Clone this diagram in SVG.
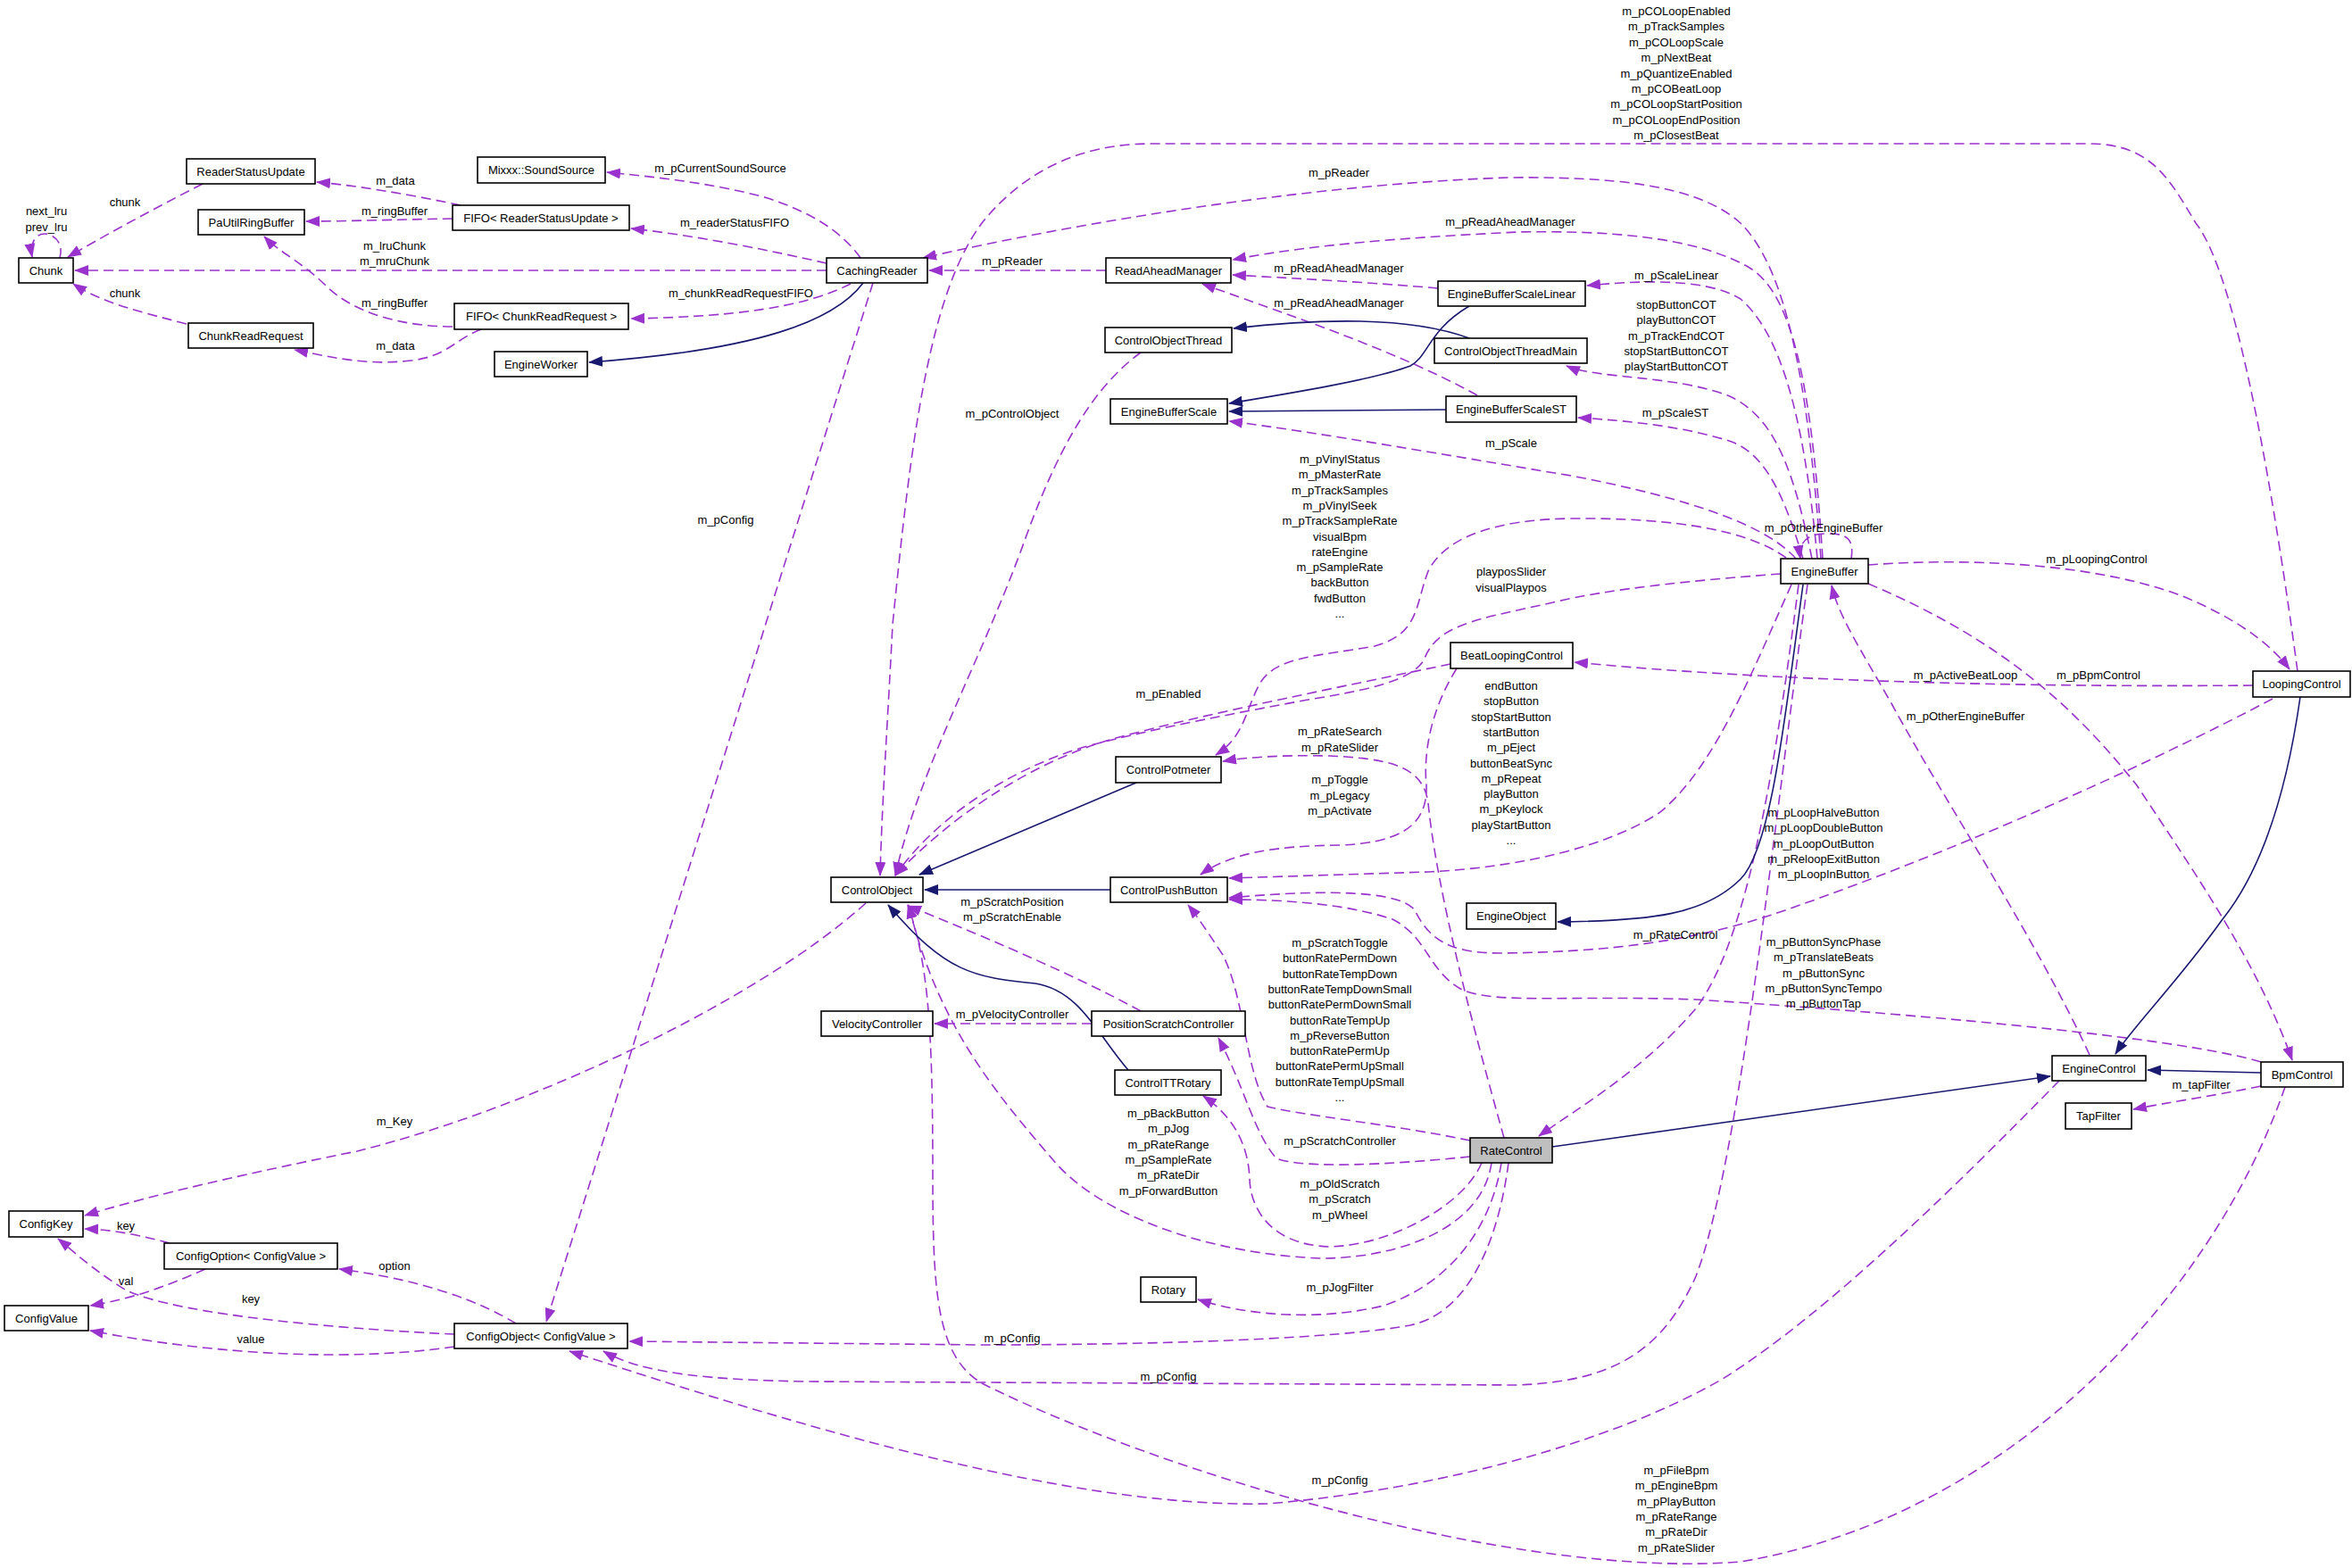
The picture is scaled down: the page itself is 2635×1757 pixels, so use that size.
<svg xmlns="http://www.w3.org/2000/svg" width="2635" height="1757" viewBox="0 0 2635 1757">
<style>
.n rect{fill:#fff;stroke:#000;stroke-width:1.6}
.n text,.l{font-family:"Liberation Sans",Arial,Helvetica,sans-serif;font-size:13px;fill:#000}
.n text{text-anchor:middle}
.l{text-anchor:middle}
.u{fill:none;stroke:#9a32cd;stroke-width:1.6;stroke-dasharray:11,6;marker-end:url(#ap)}
.i{fill:none;stroke:#191970;stroke-width:1.6;marker-end:url(#ab)}
</style>
<defs>
<marker id="ap" markerUnits="userSpaceOnUse" markerWidth="16" markerHeight="12" refX="15" refY="6" orient="auto"><path d="M0,0 L16,6 L0,12 z" fill="#9a32cd"/></marker>
<marker id="ab" markerUnits="userSpaceOnUse" markerWidth="16" markerHeight="12" refX="15" refY="6" orient="auto"><path d="M0,0 L16,6 L0,12 z" fill="#191970"/></marker>
</defs>
<rect width="2635" height="1757" fill="#fff"/>
<g id="connectors">
<path class="u" d="M67,289 C72,272 60,262 50,262 C40,262 33,272 36,288"/>
<path class="u" d="M227,206 C170,235 110,268 76,288"/>
<path class="u" d="M516,230 C460,218 400,208 355,204"/>
<path class="u" d="M507,245 C440,246 390,248 343,248"/>
<path class="u" d="M926,303 L84,303"/>
<path class="u" d="M209,363 C160,350 115,340 82,318"/>
<path class="u" d="M507,366 C450,366 395,350 365,320 C340,295 312,282 296,265"/>
<path class="u" d="M539,369 C510,380 500,400 460,404 C410,410 370,400 330,392"/>
<path class="u" d="M964,289 C940,255 900,235 860,222 C800,205 730,198 680,193"/>
<path class="u" d="M926,295 C860,280 780,264 707,256"/>
<path class="u" d="M953,318 C900,345 820,355 707,357"/>
<path class="u" d="M978,317 L612,1481"/>
<path class="i" d="M967,317 C935,360 850,392 660,406"/>
<path class="u" d="M1239,303 L1041,303"/>
<path class="u" d="M2040,626 C2025,420 2000,300 1950,250 C1900,205 1800,198 1690,199 C1500,205 1250,240 1034,289"/>
<path class="u" d="M2042,626 C2030,440 2010,330 1960,300 C1900,265 1800,258 1700,260 C1600,265 1480,272 1381,291"/>
<path class="u" d="M1611,323 C1530,316 1450,312 1381,308"/>
<path class="u" d="M1655,443 C1560,390 1420,345 1347,318"/>
<path class="u" d="M2036,626 C2020,450 1990,370 1950,335 C1910,310 1830,315 1778,320"/>
<path class="u" d="M2030,626 C2010,530 1990,470 1940,445 C1880,420 1790,425 1755,410"/>
<path class="u" d="M2020,626 C2000,560 1980,510 1940,495 C1880,475 1800,470 1768,468"/>
<path class="u" d="M2012,626 C1980,590 1900,560 1760,533 C1620,510 1480,485 1377,472"/>
<path class="u" d="M2074,626 C2078,600 2065,598 2045,598 C2025,598 2014,608 2017,626"/>
<path class="u" d="M2001,625 C1960,595 1880,580 1760,581 C1680,582 1620,600 1600,640 C1585,680 1590,710 1540,724 C1480,735 1430,735 1412,765 C1395,795 1395,825 1362,846"/>
<path class="u" d="M1995,643 C1900,650 1800,660 1740,675 C1650,695 1610,700 1595,740 C1580,765 1520,775 1460,785 C1380,800 1300,815 1230,833 C1160,850 1060,900 1003,981"/>
<path class="u" d="M1625,744 C1500,770 1350,800 1250,827 C1150,855 1060,920 1003,981"/>
<path class="u" d="M1278,395 C1230,430 1190,490 1150,600 C1100,740 1030,860 1003,981"/>
<path class="u" d="M2574,752 C2540,500 2500,300 2460,250 C2430,200 2410,161 2340,161 L1290,161 C1200,161 1140,200 1100,250 C1040,330 1020,500 1000,700 C995,800 988,900 986,981"/>
<path class="u" d="M2093,633 C2200,625 2350,630 2450,670 C2520,700 2550,730 2565,750"/>
<path class="u" d="M2524,768 C2300,770 2000,765 1764,742"/>
<path class="u" d="M2093,654 C2250,720 2330,800 2394,880 C2460,980 2530,1080 2568,1188"/>
<path class="u" d="M2341,1182 C2280,1050 2180,900 2120,790 C2080,720 2060,690 2052,656"/>
<path class="u" d="M2007,655 C1960,760 1920,860 1860,910 C1800,950 1700,972 1600,977 L1377,984"/>
<path class="u" d="M2015,655 C1990,850 1960,1050 1900,1130 C1840,1200 1770,1240 1724,1273"/>
<path class="i" d="M2020,655 C2000,800 1985,950 1950,985 C1910,1025 1850,1032 1745,1033"/>
<path class="u" d="M2025,655 C1990,900 1950,1300 1900,1430 C1860,1520 1800,1548 1700,1552 L900,1548 C800,1546 720,1540 676,1514"/>
<path class="u" d="M2546,783 C2400,860 2200,950 2000,1020 C1900,1055 1800,1067 1680,1068 C1620,1068 1600,1050 1585,1020 C1570,1000 1500,995 1377,1006"/>
<path class="u" d="M2533,1190 C2450,1165 2200,1140 1900,1120 C1760,1115 1680,1125 1640,1110 C1600,1090 1600,1050 1560,1030 C1500,1010 1420,1008 1377,1008"/>
<path class="u" d="M1632,749 C1600,800 1595,850 1598,880 C1600,930 1560,945 1500,947 C1430,948 1380,955 1345,980"/>
<path class="u" d="M1685,1275 C1650,1150 1610,1000 1600,900 C1595,860 1560,850 1490,847 C1440,846 1400,848 1370,853"/>
<path class="u" d="M1647,1278 C1560,1260 1460,1250 1420,1240 C1395,1200 1395,1120 1370,1070 C1350,1040 1340,1025 1331,1014"/>
<path class="u" d="M1647,1296 C1560,1305 1460,1310 1430,1298 C1405,1270 1395,1220 1365,1163"/>
<path class="u" d="M1660,1303 C1640,1350 1560,1395 1490,1397 C1420,1395 1400,1350 1400,1320 C1398,1280 1380,1250 1348,1228"/>
<path class="u" d="M1671,1303 C1660,1380 1560,1410 1480,1410 C1350,1405 1230,1360 1180,1300 C1120,1230 1050,1150 1018,1014"/>
<path class="u" d="M1682,1303 C1670,1380 1620,1440 1550,1463 C1480,1480 1400,1475 1342,1456"/>
<path class="u" d="M1690,1303 C1680,1380 1650,1470 1580,1485 C1500,1500 1300,1507 1100,1507 L705,1503"/>
<path class="u" d="M2307,1211 C2200,1320 2050,1470 1930,1545 C1800,1620 1600,1670 1420,1685 C1200,1690 900,1600 638,1514"/>
<path class="u" d="M2560,1218 C2480,1450 2250,1700 1950,1750 C1700,1770 1300,1650 1100,1550 C1050,1520 1045,1450 1045,1320 C1045,1150 1040,1080 1017,1014"/>
<path class="i" d="M1739,1285 L2297,1206"/>
<path class="i" d="M2533,1202 L2406,1199"/>
<path class="i" d="M2577,781 C2560,900 2530,980 2490,1030 C2440,1100 2390,1150 2370,1181"/>
<path class="u" d="M2533,1217 C2480,1228 2430,1235 2390,1243"/>
<path class="i" d="M1646,343 C1600,370 1600,400 1580,410 C1540,425 1450,440 1377,452"/>
<path class="i" d="M1620,459 L1377,461"/>
<path class="i" d="M1646,379 C1600,362 1520,352 1382,368"/>
<path class="i" d="M1273,877 L1030,980"/>
<path class="i" d="M1244,997 L1036,997"/>
<path class="i" d="M1264,1199 C1230,1160 1210,1110 1160,1102 C1090,1095 1060,1090 995,1014"/>
<path class="u" d="M1223,1147 L1047,1147"/>
<path class="u" d="M1278,1133 C1200,1090 1080,1040 1017,1015"/>
<path class="u" d="M970,1012 C850,1120 600,1240 400,1290 C250,1320 150,1345 95,1362"/>
<path class="u" d="M190,1393 C160,1385 130,1378 95,1377"/>
<path class="u" d="M230,1422 C190,1440 150,1455 101,1463"/>
<path class="u" d="M509,1495 C400,1490 200,1475 140,1445 C100,1420 80,1400 65,1388"/>
<path class="u" d="M509,1509 C400,1525 250,1520 101,1491"/>
<path class="u" d="M578,1483 C540,1460 480,1435 380,1422"/>
<g class="l-g">
<text class="l" x="52" y="241">next_lru</text>
<text class="l" x="52" y="259">prev_lru</text>
<text class="l" x="140" y="231">chunk</text>
<text class="l" x="443" y="207">m_data</text>
<text class="l" x="807" y="193">m_pCurrentSoundSource</text>
<text class="l" x="442" y="241">m_ringBuffer</text>
<text class="l" x="823" y="254">m_readerStatusFIFO</text>
<text class="l" x="442" y="280">m_lruChunk</text>
<text class="l" x="442" y="297">m_mruChunk</text>
<text class="l" x="140" y="333">chunk</text>
<text class="l" x="442" y="344">m_ringBuffer</text>
<text class="l" x="830" y="333">m_chunkReadRequestFIFO</text>
<text class="l" x="443" y="392">m_data</text>
<text class="l" x="1500" y="198">m_pReader</text>
<text class="l" x="1692" y="253">m_pReadAheadManager</text>
<text class="l" x="1134" y="297">m_pReader</text>
<text class="l" x="1500" y="305">m_pReadAheadManager</text>
<text class="l" x="1500" y="344">m_pReadAheadManager</text>
<text class="l" x="1878" y="17">m_pCOLoopEnabled<tspan x="1878" dy="17.4">m_pTrackSamples</tspan><tspan x="1878" dy="17.4">m_pCOLoopScale</tspan><tspan x="1878" dy="17.4">m_pNextBeat</tspan><tspan x="1878" dy="17.4">m_pQuantizeEnabled</tspan><tspan x="1878" dy="17.4">m_pCOBeatLoop</tspan><tspan x="1878" dy="17.4">m_pCOLoopStartPosition</tspan><tspan x="1878" dy="17.4">m_pCOLoopEndPosition</tspan><tspan x="1878" dy="17.4">m_pClosestBeat</tspan></text>
<text class="l" x="1878" y="313">m_pScaleLinear</text>
<text class="l" x="1878" y="346">stopButtonCOT<tspan x="1878" dy="17.3">playButtonCOT</tspan><tspan x="1878" dy="17.3">m_pTrackEndCOT</tspan><tspan x="1878" dy="17.3">stopStartButtonCOT</tspan><tspan x="1878" dy="17.3">playStartButtonCOT</tspan></text>
<text class="l" x="1134" y="468">m_pControlObject</text>
<text class="l" x="1693" y="501">m_pScale</text>
<text class="l" x="1501" y="519">m_pVinylStatus<tspan x="1501" dy="17.3">m_pMasterRate</tspan><tspan x="1501" dy="17.3">m_pTrackSamples</tspan><tspan x="1501" dy="17.3">m_pVinylSeek</tspan><tspan x="1501" dy="17.3">m_pTrackSampleRate</tspan><tspan x="1501" dy="17.3">visualBpm</tspan><tspan x="1501" dy="17.3">rateEngine</tspan><tspan x="1501" dy="17.3">m_pSampleRate</tspan><tspan x="1501" dy="17.3">backButton</tspan><tspan x="1501" dy="17.3">fwdButton</tspan><tspan x="1501" dy="17.3">...</tspan></text>
<text class="l" x="1693" y="645">playposSlider<tspan x="1693" dy="17.5">visualPlaypos</tspan></text>
<text class="l" x="1309" y="782">m_pEnabled</text>
<text class="l" x="1501" y="824">m_pRateSearch<tspan x="1501" dy="17.5">m_pRateSlider</tspan></text>
<text class="l" x="1693" y="773">endButton<tspan x="1693" dy="17.3">stopButton</tspan><tspan x="1693" dy="17.3">stopStartButton</tspan><tspan x="1693" dy="17.3">startButton</tspan><tspan x="1693" dy="17.3">m_pEject</tspan><tspan x="1693" dy="17.3">buttonBeatSync</tspan><tspan x="1693" dy="17.3">m_pRepeat</tspan><tspan x="1693" dy="17.3">playButton</tspan><tspan x="1693" dy="17.3">m_pKeylock</tspan><tspan x="1693" dy="17.3">playStartButton</tspan><tspan x="1693" dy="17.3">...</tspan></text>
<text class="l" x="1501" y="878">m_pToggle<tspan x="1501" dy="17.5">m_pLegacy</tspan><tspan x="1501" dy="17.5">m_pActivate</tspan></text>
<text class="l" x="1877" y="467">m_pScaleST</text>
<text class="l" x="2043" y="596">m_pOtherEngineBuffer</text>
<text class="l" x="2349" y="631">m_pLoopingControl</text>
<text class="l" x="2202" y="761">m_pActiveBeatLoop</text>
<text class="l" x="2351" y="761">m_pBpmControl</text>
<text class="l" x="2202" y="807">m_pOtherEngineBuffer</text>
<text class="l" x="1134" y="1015">m_pScratchPosition<tspan x="1134" dy="17.3">m_pScratchEnable</tspan></text>
<text class="l" x="1134" y="1141">m_pVelocityController</text>
<text class="l" x="1501" y="1061">m_pScratchToggle<tspan x="1501" dy="17.3">buttonRatePermDown</tspan><tspan x="1501" dy="17.3">buttonRateTempDown</tspan><tspan x="1501" dy="17.3">buttonRateTempDownSmall</tspan><tspan x="1501" dy="17.3">buttonRatePermDownSmall</tspan><tspan x="1501" dy="17.3">buttonRateTempUp</tspan><tspan x="1501" dy="17.3">m_pReverseButton</tspan><tspan x="1501" dy="17.3">buttonRatePermUp</tspan><tspan x="1501" dy="17.3">buttonRatePermUpSmall</tspan><tspan x="1501" dy="17.3">buttonRateTempUpSmall</tspan><tspan x="1501" dy="17.3">...</tspan></text>
<text class="l" x="1501" y="1283">m_pScratchController</text>
<text class="l" x="1309" y="1252">m_pBackButton<tspan x="1309" dy="17.3">m_pJog</tspan><tspan x="1309" dy="17.3">m_pRateRange</tspan><tspan x="1309" dy="17.3">m_pSampleRate</tspan><tspan x="1309" dy="17.3">m_pRateDir</tspan><tspan x="1309" dy="17.3">m_pForwardButton</tspan></text>
<text class="l" x="2043" y="915">m_pLoopHalveButton<tspan x="2043" dy="17.3">m_pLoopDoubleButton</tspan><tspan x="2043" dy="17.3">m_pLoopOutButton</tspan><tspan x="2043" dy="17.3">m_pReloopExitButton</tspan><tspan x="2043" dy="17.3">m_pLoopInButton</tspan></text>
<text class="l" x="1877" y="1052">m_pRateControl</text>
<text class="l" x="2043" y="1060">m_pButtonSyncPhase<tspan x="2043" dy="17.3">m_pTranslateBeats</tspan><tspan x="2043" dy="17.3">m_pButtonSync</tspan><tspan x="2043" dy="17.3">m_pButtonSyncTempo</tspan><tspan x="2043" dy="17.3">m_pButtonTap</tspan></text>
<text class="l" x="2466" y="1220">m_tapFilter</text>
<text class="l" x="442" y="1261">m_Key</text>
<text class="l" x="813" y="587">m_pConfig</text>
<text class="l" x="141" y="1378">key</text>
<text class="l" x="442" y="1423">option</text>
<text class="l" x="141" y="1440">val</text>
<text class="l" x="281" y="1460">key</text>
<text class="l" x="281" y="1505">value</text>
<text class="l" x="1501" y="1331">m_pOldScratch<tspan x="1501" dy="17.3">m_pScratch</tspan><tspan x="1501" dy="17.3">m_pWheel</tspan></text>
<text class="l" x="1501" y="1447">m_pJogFilter</text>
<text class="l" x="1134" y="1504">m_pConfig</text>
<text class="l" x="1309" y="1547">m_pConfig</text>
<text class="l" x="1501" y="1663">m_pConfig</text>
<text class="l" x="1878" y="1652">m_pFileBpm<tspan x="1878" dy="17.3">m_pEngineBpm</tspan><tspan x="1878" dy="17.3">m_pPlayButton</tspan><tspan x="1878" dy="17.3">m_pRateRange</tspan><tspan x="1878" dy="17.3">m_pRateDir</tspan><tspan x="1878" dy="17.3">m_pRateSlider</tspan></text>
</g>
</g>
<g id="Chunk" class="n"><rect x="21" y="289" width="61" height="28"/><text x="51.5" y="308">Chunk</text></g>
<g id="ReaderStatusUpdate" class="n"><rect x="209" y="178" width="144" height="28"/><text x="281" y="197">ReaderStatusUpdate</text></g>
<g id="SoundSource" class="n"><rect x="535" y="176" width="143" height="29"/><text x="606.5" y="195">Mixxx::SoundSource</text></g>
<g id="PaUtilRingBuffer" class="n"><rect x="222" y="235" width="119" height="28"/><text x="281.5" y="254">PaUtilRingBuffer</text></g>
<g id="FIFO_RSU" class="n"><rect x="507" y="230" width="198" height="28"/><text x="606" y="249">FIFO&lt; ReaderStatusUpdate &gt;</text></g>
<g id="FIFO_CRR" class="n"><rect x="509" y="340" width="195" height="29"/><text x="606.5" y="359">FIFO&lt; ChunkReadRequest &gt;</text></g>
<g id="ChunkReadRequest" class="n"><rect x="211" y="362" width="140" height="28"/><text x="281" y="381">ChunkReadRequest</text></g>
<g id="EngineWorker" class="n"><rect x="554" y="394" width="104" height="28"/><text x="606" y="413">EngineWorker</text></g>
<g id="CachingReader" class="n"><rect x="926" y="289" width="113" height="28"/><text x="982.5" y="308">CachingReader</text></g>
<g id="ReadAheadManager" class="n"><rect x="1239" y="289" width="140" height="28"/><text x="1309" y="308">ReadAheadManager</text></g>
<g id="EngineBufferScaleLinear" class="n"><rect x="1611" y="315" width="165" height="28"/><text x="1693.5" y="334">EngineBufferScaleLinear</text></g>
<g id="ControlObjectThread" class="n"><rect x="1238" y="367" width="142" height="28"/><text x="1309" y="386">ControlObjectThread</text></g>
<g id="ControlObjectThreadMain" class="n"><rect x="1607" y="379" width="171" height="28"/><text x="1692.5" y="398">ControlObjectThreadMain</text></g>
<g id="EngineBufferScale" class="n"><rect x="1244" y="447" width="131" height="28"/><text x="1309.5" y="466">EngineBufferScale</text></g>
<g id="EngineBufferScaleST" class="n"><rect x="1620" y="444" width="146" height="29"/><text x="1693" y="463">EngineBufferScaleST</text></g>
<g id="BeatLoopingControl" class="n"><rect x="1625" y="720" width="137" height="29"/><text x="1693.5" y="739">BeatLoopingControl</text></g>
<g id="ControlPotmeter" class="n"><rect x="1250" y="848" width="118" height="29"/><text x="1309" y="867">ControlPotmeter</text></g>
<g id="EngineBuffer" class="n"><rect x="1995" y="626" width="98" height="28"/><text x="2044" y="645">EngineBuffer</text></g>
<g id="LoopingControl" class="n"><rect x="2524" y="752" width="109" height="29"/><text x="2578.5" y="771">LoopingControl</text></g>
<g id="ControlObject" class="n"><rect x="931" y="983" width="103" height="28"/><text x="982.5" y="1002">ControlObject</text></g>
<g id="ControlPushButton" class="n"><rect x="1244" y="983" width="131" height="28"/><text x="1309.5" y="1002">ControlPushButton</text></g>
<g id="EngineObject" class="n"><rect x="1643" y="1012" width="100" height="29"/><text x="1693" y="1031">EngineObject</text></g>
<g id="VelocityController" class="n"><rect x="920" y="1133" width="125" height="28"/><text x="982.5" y="1152">VelocityController</text></g>
<g id="PositionScratchController" class="n"><rect x="1223" y="1133" width="172" height="28"/><text x="1309" y="1152">PositionScratchController</text></g>
<g id="ControlTTRotary" class="n"><rect x="1249" y="1199" width="119" height="28"/><text x="1308.5" y="1218">ControlTTRotary</text></g>
<g id="RateControl" class="n"><rect x="1647" y="1275" width="92" height="28" style="fill:#bfbfbf"/><text x="1693" y="1294">RateControl</text></g>
<g id="EngineControl" class="n"><rect x="2299" y="1183" width="105" height="28"/><text x="2351.5" y="1202">EngineControl</text></g>
<g id="BpmControl" class="n"><rect x="2533" y="1190" width="92" height="28"/><text x="2579" y="1209">BpmControl</text></g>
<g id="TapFilter" class="n"><rect x="2314" y="1236" width="74" height="29"/><text x="2351" y="1255">TapFilter</text></g>
<g id="ConfigKey" class="n"><rect x="10" y="1357" width="83" height="29"/><text x="51.5" y="1376">ConfigKey</text></g>
<g id="ConfigOption" class="n"><rect x="184" y="1393" width="194" height="29"/><text x="281" y="1412">ConfigOption&lt; ConfigValue &gt;</text></g>
<g id="ConfigValue" class="n"><rect x="5" y="1463" width="94" height="28"/><text x="52" y="1482">ConfigValue</text></g>
<g id="ConfigObject" class="n"><rect x="509" y="1483" width="194" height="28"/><text x="606" y="1502">ConfigObject&lt; ConfigValue &gt;</text></g>
<g id="Rotary" class="n"><rect x="1278" y="1431" width="62" height="28"/><text x="1309" y="1450">Rotary</text></g>
</svg>
